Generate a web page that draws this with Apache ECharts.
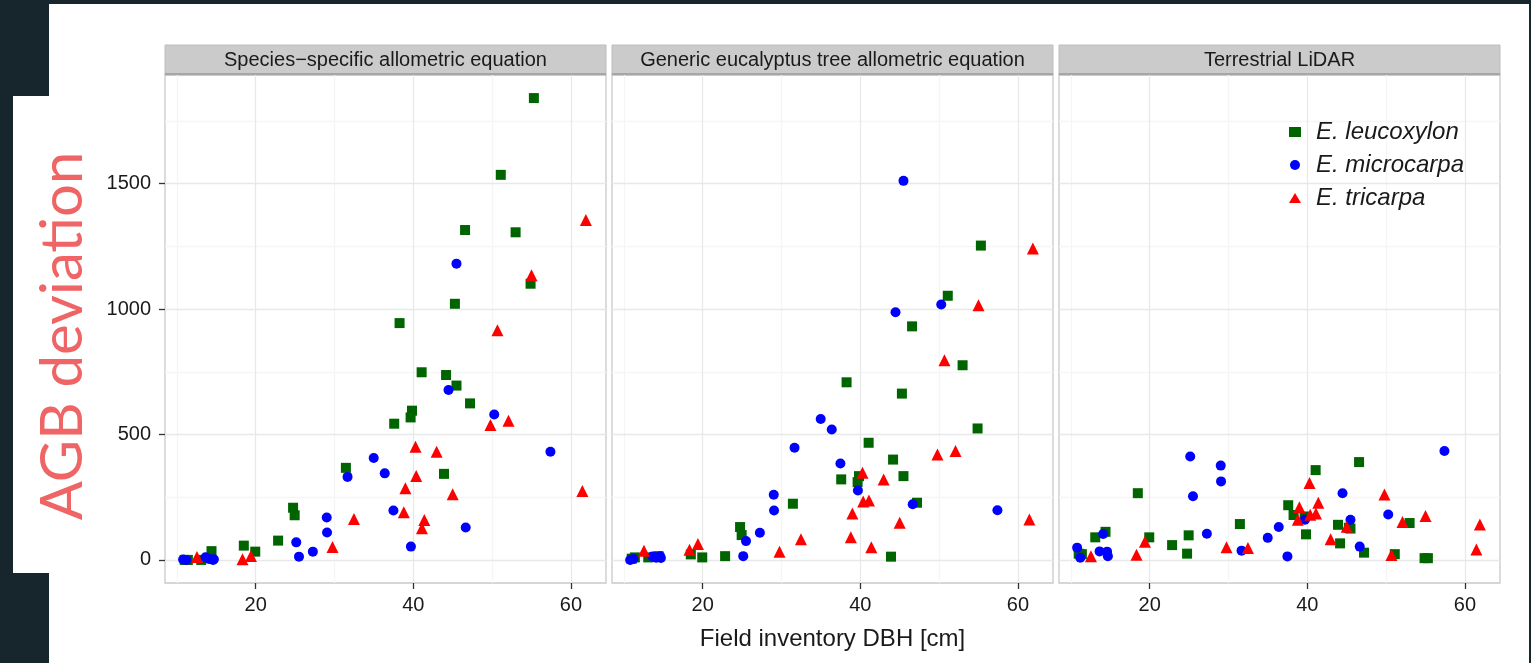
<!DOCTYPE html>
<html>
<head>
<meta charset="utf-8">
<title>AGB deviation</title>
<script src="https://cdn.jsdelivr.net/npm/echarts@6/dist/echarts.min.js"></script>
<style>
    html, body { margin: 0; padding: 0; background: #17252d; }
    #page { position: relative; width: 1531px; height: 663px; overflow: hidden; }
    #sheet { position: absolute; left: 49px; top: 4px; width: 1480px; height: 659px; background: #fff; }
    #labelBox { position: absolute; left: 13px; top: 96px; width: 37px; height: 477px; background: #fff; }
    #chart { position: absolute; left: 0; top: 0; width: 1531px; height: 663px; }
</style>
</head>
<body>
<div id="page">
    <div id="sheet"></div>
    <div id="labelBox"></div>
    <div id="chart"></div>
</div>
<script>
// facets and species
var panelTitles = ['Species\u2212specific allometric equation', 'Generic eucalyptus tree allometric equation', 'Terrestrial LiDAR'];
var speciesNames = ['E. leucoxylon', 'E. microcarpa', 'E. tricarpa'];

// field inventory DBH [cm] of each tree
var dbhLeu = [11.0, 11.4, 13.1, 14.4, 18.5, 19.95, 22.85, 24.75, 24.95, 31.45, 37.58, 38.26, 39.66, 39.84, 41.06, 43.9, 44.16, 45.28, 45.48, 46.57, 47.2, 51.1, 52.98, 54.88, 55.3];
var dbhMic = [10.8, 11.2, 13.65, 14.1, 14.6, 14.7, 25.15, 25.5, 27.26, 29.02, 29.06, 31.66, 34.98, 36.38, 37.48, 39.7, 44.47, 45.48, 46.65, 50.27, 57.4];
var dbhTri = [12.55, 18.33, 19.4, 29.75, 32.47, 38.8, 39.0, 40.28, 40.37, 41.1, 41.4, 42.96, 45.0, 49.79, 50.68, 52.08, 55.0, 61.45, 61.9];

// AGB deviation, species-specific allometric equation
var leuSpecies = [0, 0, 0, 35, 57, 33, 77, 208, 178, 367, 543, 944, 568, 595, 748, 343, 737, 1021, 695, 1315, 624, 1535, 1306, 1101, 1841];
var micSpecies = [2, 0, 11, 4, 0, 3, 70, 13, 33, 169, 109, 331, 406, 345, 197, 53, 677, 1181, 129, 580, 431];
var triSpecies = [12, 3, 16, 52, 163, 190, 286, 451, 335, 126, 159, 431, 262, 538, 916, 555, 1135, 275, 1355];

// AGB deviation, generic eucalyptus equation
var leuGeneric = [5, 10, 10, 15, 22, 10, 15, 131, 99, 224, 321, 708, 310, 334, 467, 13, 400, 663, 334, 931, 228, 1053, 776, 524, 1253];
var micGeneric = [0, 4, 14, 9, 15, 8, 15, 75, 108, 260, 197, 447, 562, 520, 384, 277, 987, 1511, 222, 1018, 198];
var triGeneric = [37, 41, 63, 33, 82, 90, 185, 347, 233, 237, 51, 321, 148, 420, 796, 434, 1015, 161, 1241];

// AGB deviation, terrestrial LiDAR
var leuLidar = [25, 23, 90, 112, 266, 90, 59, 25, 98, 143, 218, 179, 173, 102, 358, 140, 66, 128, 125, 390, 29, 23, 147, 7, 7];
var micLidar = [49, 9, 34, 103, 33, 15, 412, 254, 104, 376, 313, 37, 88, 131, 14, 160, 266, 160, 53, 181, 434];
var triLidar = [15, 21, 72, 51, 48, 160, 210, 307, 180, 185, 228, 82, 132, 261, 20, 151, 175, 42, 141];

// ticks
var xTicks = [20, 40, 60];
var xMinor = [10, 30, 50];
var yTicks = [0, 500, 1000, 1500];
var yMinor = [250, 750, 1250, 1750];

var panelLeft = [165, 612, 1059];
var panelTop = 75;
var panelWidth = 441;
var panelHeight = 508;
var stripHeight = 30;

var colors = ['#006400', '#0000ff', '#ff0000'];
var symbols = ['rect', 'circle', 'triangle'];
var sizes = [10, 10, 12];
var textFont = '"Liberation Sans", Arial, sans-serif';

function zip(xs, ys) {
    var out = [];
    for (var i = 0; i < xs.length; i++) {
        out.push([xs[i], ys[i]]);
    }
    return out;
}

function gridLine(axis, v, color) {
    var item = { label: { show: false }, lineStyle: { color: color } };
    item[axis] = v;
    return item;
}

function gridLines() {
    var data = [];
    xMinor.forEach(function (v) { data.push(gridLine('xAxis', v, '#f5f5f5')); });
    yMinor.forEach(function (v) { data.push(gridLine('yAxis', v, '#f5f5f5')); });
    xTicks.forEach(function (v) { data.push(gridLine('xAxis', v, '#e8e8e8')); });
    yTicks.forEach(function (v) { data.push(gridLine('yAxis', v, '#e8e8e8')); });
    return {
        silent: true,
        symbol: ['none', 'none'],
        symbolSize: 0,
        z: 1,
        animation: false,
        label: { show: false },
        emphasis: { disabled: true, label: { show: false } },
        lineStyle: { type: 'solid', width: 1.3, cap: 'butt' },
        data: data
    };
}

var panelData = [
    [dbhLeu, leuSpecies, dbhMic, micSpecies, dbhTri, triSpecies],
    [dbhLeu, leuGeneric, dbhMic, micGeneric, dbhTri, triGeneric],
    [dbhLeu, leuLidar, dbhMic, micLidar, dbhTri, triLidar]
];

var grids = [], xAxes = [], yAxes = [], series = [], graphics = [];

for (var p = 0; p < 3; p++) {
    grids.push({
        left: panelLeft[p], top: panelTop, width: panelWidth, height: panelHeight,
        show: true, backgroundColor: '#fff', borderColor: '#c9c9c9', borderWidth: 1.3
    });
    // onZero off, otherwise the ticks sit on the y = 0 line
    xAxes.push({
        type: 'value', gridIndex: p, min: 8.5, max: 64.45, position: 'bottom',
        axisLine: { show: false, onZero: false },
        axisTick: { show: true, customValues: xTicks, length: 6, lineStyle: { color: '#333', width: 1.3 } },
        axisLabel: { customValues: xTicks, fontSize: 20, color: '#1a1a1a', margin: 12, fontFamily: textFont },
        splitLine: { show: false }
    });
    yAxes.push({
        type: 'value', gridIndex: p, min: -92, max: 1933, position: 'left',
        axisLine: { show: false, onZero: false },
        axisTick: { show: p === 0, customValues: yTicks, length: 6, lineStyle: { color: '#333', width: 1.3 } },
        axisLabel: {
            show: p === 0, customValues: yTicks, fontSize: 20, color: '#1a1a1a', margin: 14, fontFamily: textFont,
            formatter: function (v) { return String(v); }
        },
        splitLine: { show: false }
    });
    for (var s = 0; s < 3; s++) {
        var item = {
            name: speciesNames[s],
            type: 'scatter',
            xAxisIndex: p,
            yAxisIndex: p,
            symbol: symbols[s],
            symbolSize: sizes[s],
            itemStyle: { color: colors[s], opacity: 1 },
            z: 3,
            data: zip(panelData[p][s * 2], panelData[p][s * 2 + 1])
        };
        if (s === 0) {
            item.markLine = gridLines();
        }
        series.push(item);
    }
    // facet strip
    graphics.push({
        type: 'rect',
        shape: { x: panelLeft[p], y: panelTop - stripHeight, width: panelWidth, height: stripHeight },
        style: { fill: '#cbcbcb', stroke: '#bdbdbd', lineWidth: 1 }
    });
    graphics.push({
        type: 'line',
        shape: { x1: panelLeft[p], y1: panelTop - 1, x2: panelLeft[p] + panelWidth, y2: panelTop - 1 },
        style: { stroke: '#a6a6a6', lineWidth: 2 }
    });
    graphics.push({
        type: 'text',
        x: panelLeft[p] + panelWidth / 2,
        y: panelTop - stripHeight / 2,
        style: {
            text: panelTitles[p], fill: '#1a1a1a', font: '20px ' + textFont,
            textAlign: 'center', textVerticalAlign: 'middle'
        }
    });
}

// x axis title
graphics.push({
    type: 'text',
    x: panelLeft[1] + panelWidth / 2,
    y: 639,
    style: {
        text: 'Field inventory DBH [cm]', fill: '#1a1a1a', font: '24px ' + textFont,
        textAlign: 'center', textVerticalAlign: 'middle'
    }
});

// big y label on the slide
graphics.push({
    type: 'text',
    x: 63,
    y: 336,
    rotation: Math.PI / 2,
    style: {
        text: 'AGB deviation', fill: '#ef6464', font: '58px Lato, "Noto Sans", sans-serif',
        textAlign: 'center', textVerticalAlign: 'middle'
    }
});

var myChart = echarts.init(document.getElementById('chart'), null, { renderer: 'canvas' });
var option = {
    backgroundColor: 'transparent',
    animation: false,
    grid: grids,
    xAxis: xAxes,
    yAxis: yAxes,
    legend: {
        orient: 'vertical',
        left: 1284,
        top: 115,
        itemWidth: 12,
        itemHeight: 10,
        itemGap: 9,
        selectedMode: false,
        textStyle: {
            fontSize: 24, lineHeight: 24, fontStyle: 'italic', color: '#1a1a1a', fontFamily: textFont,
            padding: [0, 0, 0, 10]
        },
        data: [
            { name: speciesNames[0], icon: 'rect', itemStyle: { color: colors[0] } },
            { name: speciesNames[1], icon: 'circle', itemStyle: { color: colors[1] } },
            { name: speciesNames[2], icon: 'triangle', itemStyle: { color: colors[2] } }
        ]
    },
    graphic: graphics,
    series: series
};
myChart.setOption(option);
</script>
</body>
</html>
